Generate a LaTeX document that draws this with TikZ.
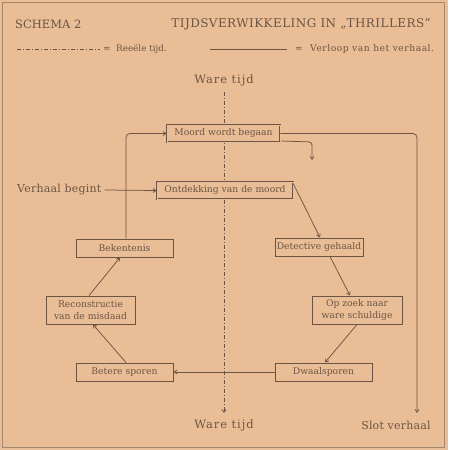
\documentclass[tikz,border=0pt]{standalone}
\usepackage{fontspec}
\setmainfont{DejaVu Serif}
\usetikzlibrary{arrows.meta}
\definecolor{paper}{RGB}{233,189,150}
\definecolor{ink}{RGB}{108,85,68}
\definecolor{frame}{RGB}{165,135,110}
\begin{document}
\begin{tikzpicture}[x=1pt,y=-1pt,
  every node/.style={text=ink,inner sep=0pt},
  box/.style={draw=ink,fill=paper,line width=0.95pt,font=\fontsize{9.2}{12}\selectfont,align=center,inner sep=0pt},
  dbox/.style={box,double=paper,double distance=0.5pt,line width=0.6pt},
  lbl/.style={font=\fontsize{11}{13}\selectfont},
  con/.style={draw=ink,line width=0.75pt,-{Straight Barb[length=3pt,width=4pt]}},
  real/.style={draw=ink,line width=0.75pt,dash pattern=on 4pt off 2pt on 1pt off 2pt}]
\fill[paper] (0,0) rectangle (448,450);
\useasboundingbox (0,0) rectangle (448,450);
\draw[frame,line width=0.8pt] (2,2) rectangle (444,447);
% header
\node[font=\fontsize{11.5}{13}\selectfont,anchor=west] (schema) at (15,24) {SCHEMA 2};
\node[font=\fontsize{12}{14}\selectfont\addfontfeature{LetterSpace=3.5}\selectfont,anchor=east] (title) at (431,24) {TIJDSVERWIKKELING IN „THRILLERS"};
\coordinate (la) at (17,49); \coordinate (lb) at (100,49);
\draw[real] (la) -- (lb);
\node[font=\fontsize{9}{10}\selectfont,anchor=west] (eq1) at (103,49) {=};
\node[font=\fontsize{8.8}{10}\selectfont,anchor=west] (reele) at (116,49) {Reeële tijd.};
\coordinate (lc) at (210,49); \coordinate (ld) at (287,49);
\draw[ink,line width=0.75pt] (lc) -- (ld);
\node[font=\fontsize{9}{10}\selectfont,anchor=west] (eq2) at (295,49) {=};
\node[font=\fontsize{9.2}{10}\selectfont\addfontfeature{LetterSpace=5.5}\selectfont,anchor=west] (verloop) at (310,49) {Verloop van het verhaal.};
% time axis
\node[lbl,font=\fontsize{11.5}{13}\selectfont\addfontfeature{LetterSpace=8}\selectfont] (wtop) at (224,80) {Ware tijd};
\node[lbl,font=\fontsize{11.5}{13}\selectfont\addfontfeature{LetterSpace=8}\selectfont] (wbot) at (224,425) {Ware tijd};
\coordinate (wt) at (224,92); \coordinate (wb) at (224,413);
\draw[real,-{Straight Barb[length=3pt,width=4pt]}] (wt) -- (wb);
% boxes
\node[dbox,minimum width=113pt,minimum height=17pt] (moord) at (223.5,133.5) {Moord wordt begaan};
\node[dbox,minimum width=136pt,minimum height=17pt] (ontd) at (225,190.5) {Ontdekking van de moord};
\node[box,minimum width=88pt,minimum height=18pt] (det) at (319,247) {Detective gehaald};
\node[box,minimum width=90pt,minimum height=28pt] (zoek) at (357,310) {Op zoek naar\\ware schuldige};
\node[box,minimum width=97pt,minimum height=18pt] (dwaal) at (323.5,372) {Dwaalsporen};
\node[box,minimum width=97pt,minimum height=18pt] (betere) at (124.5,372) {Betere sporen};
\node[box,minimum width=89pt,minimum height=28pt] (recon) at (90.5,310) {Reconstructie\\van de misdaad};
\node[box,minimum width=97pt,minimum height=18pt] (bek) at (124.5,248) {Bekentenis};
% labels
\node[lbl,anchor=west,font=\fontsize{11}{13}\selectfont\addfontfeature{LetterSpace=2}\selectfont] (vb) at (17,190) {Verhaal begint};
\node[lbl,font=\fontsize{11}{13}\selectfont\addfontfeature{LetterSpace=2}\selectfont] (slot) at (396,425) {Slot verhaal};
% connectors
\draw[con,rounded corners=4pt] ([xshift=1.5pt]bek.north) |- (moord.west);
\coordinate (slotc) at (417,413);
\draw[con,rounded corners=4pt] (moord.east) -| (slotc);
\coordinate (m1) at (281,141); \coordinate (m2) at (312,160);
\draw[con,rounded corners=3pt] (m1) -- (312,142) -- (m2);
\draw[con] (vb.east) ++(3pt,0) -- (ontd.west);
\draw[con] ([yshift=-2pt]ontd.north east) -- ([xshift=1pt]det.north);
\draw[con] ([xshift=11pt]det.south) -- ([xshift=-7pt]zoek.north);
\draw[con] (zoek.south) -- ([xshift=1.5pt]dwaal.north);
\draw[con] (dwaal.west) -- (betere.east);
\draw[con] ([xshift=1.5pt]betere.north) -- ([xshift=2.5pt]recon.south);
\draw[con] ([xshift=-1.5pt]recon.north) -- ([xshift=-4.5pt]bek.south);
\end{tikzpicture}
\end{document}
